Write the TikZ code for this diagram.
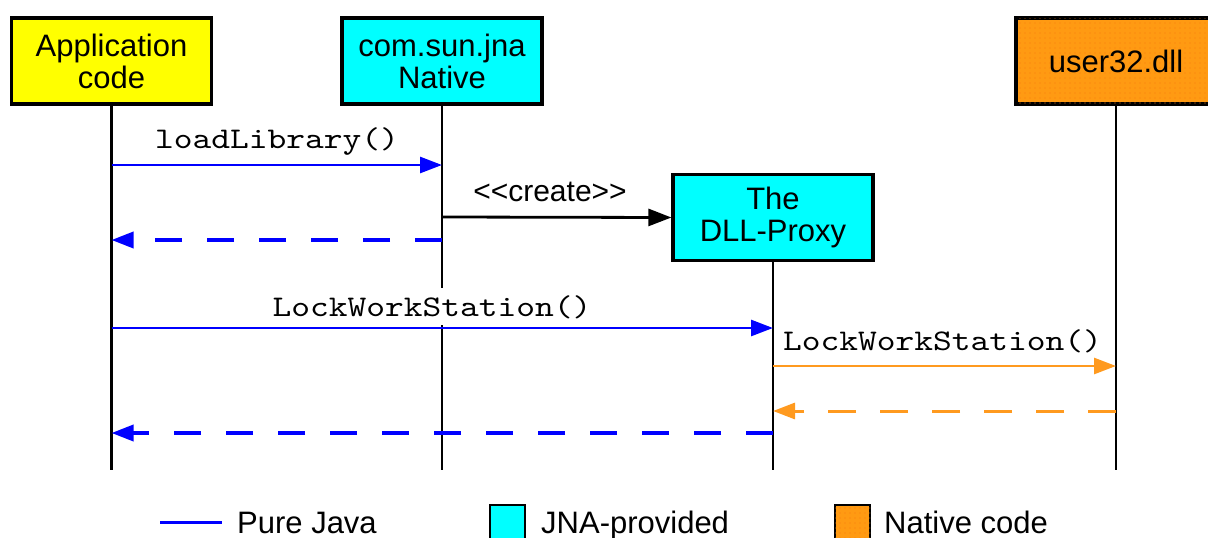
\documentclass[tikz,border=0pt]{standalone}
\usepackage{fontspec}
\setmainfont{Liberation Sans}
\setmonofont{lmmono10-regular.otf}[FakeStretch=1.19]
\usetikzlibrary{arrows.meta,patterns.meta}

\definecolor{appyellow}{HTML}{FFFF00}
\definecolor{jnacyan}{HTML}{00FFFF}
\definecolor{nativeorange}{HTML}{FF9A12}
\definecolor{dotorange}{HTML}{F77A10}
\definecolor{javablue}{HTML}{0000FF}
\definecolor{callorange}{HTML}{FF9A1F}

\begin{document}
\begin{tikzpicture}[x=1pt,y=-1pt,
  actor/.style={draw=black, line width=3.2pt, minimum width=200pt,
    minimum height=86pt, inner sep=0pt, align=center,
    font=\fontsize{31}{32}\selectfont},
  nativefill/.style={fill=nativeorange,
    postaction={pattern={Dots[radius=0.6pt, distance=5pt]}, pattern color=dotorange}},
  life/.style={draw=black, line width=2.8pt},
  tip/.style={-{Triangle[length=22pt, width=16pt]}},
  call/.style={tip, line width=2.8pt},
  reply/.style={tip, line width=3.5pt, dash pattern=on 27pt off 25pt},
  code/.style={font=\ttfamily\fontsize{30}{30}\selectfont, inner sep=0pt},
  sans/.style={font=\fontsize{30}{30}\selectfont, inner sep=0pt},
  legend/.style={font=\fontsize{31}{31}\selectfont, inner sep=0pt},
  swatch/.style={draw=black, line width=2.2pt, minimum size=35pt, inner sep=0pt}
]
\useasboundingbox (0,0) rectangle (1208,538);
\clip (0,0) rectangle (1208,538);

% participants
\node[actor, fill=appyellow] (app) at (111.5,61) {Application\\code};
\node[actor, fill=jnacyan] (nat) at (442,61) {com.sun.jna\\Native};
\node[actor, fill=jnacyan] (prx) at (773,217.5) {The\\DLL-Proxy};
\node[actor, nativefill] (usr) at (1116,61) {user32.dll};

% lifelines
\coordinate (appEnd) at (111.5,470);
\coordinate (natEnd) at (442,470);
\coordinate (prxEnd) at (773,470);
\coordinate (usrEnd) at (1116,470);
\draw[life] (app.south) -- (appEnd);
\draw[life] (nat.south) -- (natEnd);
\draw[life] (prx.south) -- (prxEnd);
\draw[life] (usr.south) -- (usrEnd);

% message labels
\node[code, anchor=base] (lblLoad) at (277,148) {loadLibrary()};
\node[sans, anchor=base] (lblCreate) at (550,201) {<{}<create>{}>};
\node[code, anchor=base, fill=white, inner xsep=4pt, inner ysep=7pt] (lblLock) at (432,316) {LockWorkStation()};
\node[code, anchor=base] (lblNative) at (942.5,350) {LockWorkStation()};

% messages
\draw[call, javablue] (app.south |- 0,165) -- (nat.south |- 0,165);
\draw[line width=2.8pt, -{Triangle[length=23pt, width=17pt]}] (nat.south |- 0,217) -- (prx.west);
\draw[reply, javablue] (nat.south |- 0,240) -- (app.south |- 0,240);
\draw[call, javablue] (app.south |- 0,328) -- (prx.south |- 0,328);
\draw[call, callorange] (prx.south |- 0,366) -- (usr.south |- 0,366);
\draw[reply, callorange, line width=3pt, dash pattern=on 28pt off 24pt] (usr.south |- 0,411) -- (prx.south |- 0,411);
\draw[reply, javablue] (prx.south |- 0,433) -- (app.south |- 0,433);

% legend
\node[legend, anchor=base west] (lgJava) at (237,533) {Pure Java};
\coordinate (lgLineA) at (160,522);
\coordinate (lgLineB) at (222,522);
\draw[javablue, line width=3pt] (lgLineA) -- (lgLineB);
\node[swatch, fill=jnacyan, anchor=north west] (lgCyan) at (489,504) {};
\node[legend, anchor=base west] (lgJna) at (541,533) {JNA-provided};
\node[swatch, nativefill, anchor=north west] (lgOrange) at (834,504) {};
\node[legend, anchor=base west] (lgNative) at (884,533) {Native code};
\end{tikzpicture}
\end{document}
